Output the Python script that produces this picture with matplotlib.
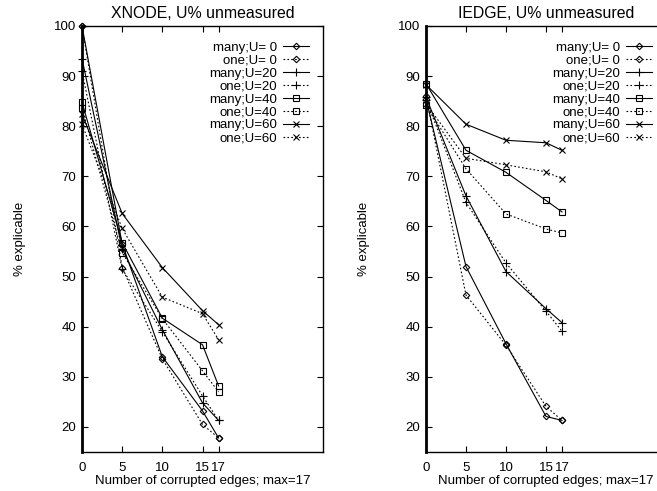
import matplotlib
matplotlib.use("Agg")
from matplotlib import pyplot as plt

plt.rcParams['font.family'] = ['Liberation Sans', 'DejaVu Sans']
plt.rcParams['font.size'] = 9.5

# corrupted edges
x = [0, 5, 10, 15, 17]
labels = ["many;U= 0", "one;U= 0", "many;U=20", "one;U=20",
          "many;U=40", "one;U=40", "many;U=60", "one;U=60"]

# XNODE values (% explicable)
xnode_many_u0 = [100, 56.5, 34.0, 23.2, 17.8]
xnode_one_u0 = [100, 51.8, 33.6, 20.5, 17.8]
xnode_many_u20 = [93.5, 55.5, 39.4, 24.8, 21.3]
xnode_one_u20 = [91.0, 51.5, 39.0, 26.2, 21.3]
xnode_many_u40 = [84.8, 56.8, 41.7, 36.4, 28.2]
xnode_one_u40 = [83.6, 54.8, 41.6, 31.2, 27.0]
xnode_many_u60 = [82.4, 62.6, 51.8, 43.2, 40.4]
xnode_one_u60 = [80.4, 59.6, 45.9, 42.6, 37.4]

# IEDGE values (% explicable)
iedge_many_u0 = [85.5, 52.0, 36.6, 22.1, 21.3]
iedge_one_u0 = [86.0, 46.3, 36.3, 24.1, 21.3]
iedge_many_u20 = [85.8, 66.1, 51.0, 43.6, 40.8]
iedge_one_u20 = [85.3, 64.8, 52.7, 43.1, 39.1]
iedge_many_u40 = [88.5, 75.2, 70.8, 65.2, 62.9]
iedge_one_u40 = [84.2, 71.5, 62.5, 59.5, 58.7]
iedge_many_u60 = [88.3, 80.4, 77.2, 76.7, 75.2]
iedge_one_u60 = [84.5, 73.6, 72.3, 70.9, 69.5]

xnode = [xnode_many_u0, xnode_one_u0, xnode_many_u20, xnode_one_u20,
         xnode_many_u40, xnode_one_u40, xnode_many_u60, xnode_one_u60]
iedge = [iedge_many_u0, iedge_one_u0, iedge_many_u20, iedge_one_u20,
         iedge_many_u40, iedge_one_u40, iedge_many_u60, iedge_one_u60]

markers = ['D', 'D', '+', '+', 's', 's', 'x', 'x']
msizes = [3.3, 3.3, 5.5, 5.5, 4.5, 4.5, 5, 5]
dotted = (0, (1.5, 2))
styles = ['-', dotted, '-', dotted, '-', dotted, '-', dotted]

fig = plt.figure(figsize=(6.57, 4.91), dpi=100)
ax1 = fig.add_axes([82 / 657, 1 - 452 / 491, 241 / 657, 426 / 491])
ax2 = fig.add_axes([426 / 657, 1 - 452 / 491, 240 / 657, 426 / 491])


def draw(ax, series, title):
    for ys, lab, m, ms, ls in zip(series, labels, markers, msizes, styles):
        ax.plot(x, ys, color='black', linestyle=ls, linewidth=0.8,
                marker=m, markersize=ms, markerfacecolor='none',
                markeredgecolor='black', markeredgewidth=0.8, label=lab,
                clip_on=False, zorder=3)
    ax.set_xlim(0, 30)
    ax.set_ylim(15, 100)
    ax.set_xticks([0, 5, 10, 15, 17])
    ax.set_yticks([20, 30, 40, 50, 60, 70, 80, 90, 100])
    ax.tick_params(direction='in', length=4, width=0.8, top=True, right=True)
    ax.tick_params(axis='x', pad=7)
    ax.tick_params(axis='y', pad=4)
    for s in ax.spines.values():
        s.set_linewidth(1.0)
    ax.spines['left'].set_linewidth(2.0)
    ax.set_title(title, pad=6)
    ax.set_xlabel("Number of corrupted edges; max=17", labelpad=1)
    ax.set_ylabel("% explicable", labelpad=20)
    ax.legend(loc='upper right', bbox_to_anchor=(0.942, 0.963),
              frameon=False, markerfirst=False, numpoints=1,
              handlelength=2.0, handletextpad=0.45, labelspacing=0.05,
              borderpad=0, borderaxespad=0)


draw(ax1, xnode, "XNODE, U% unmeasured")
draw(ax2, iedge, "IEDGE, U% unmeasured")

fig.savefig("out.png", dpi=100)
